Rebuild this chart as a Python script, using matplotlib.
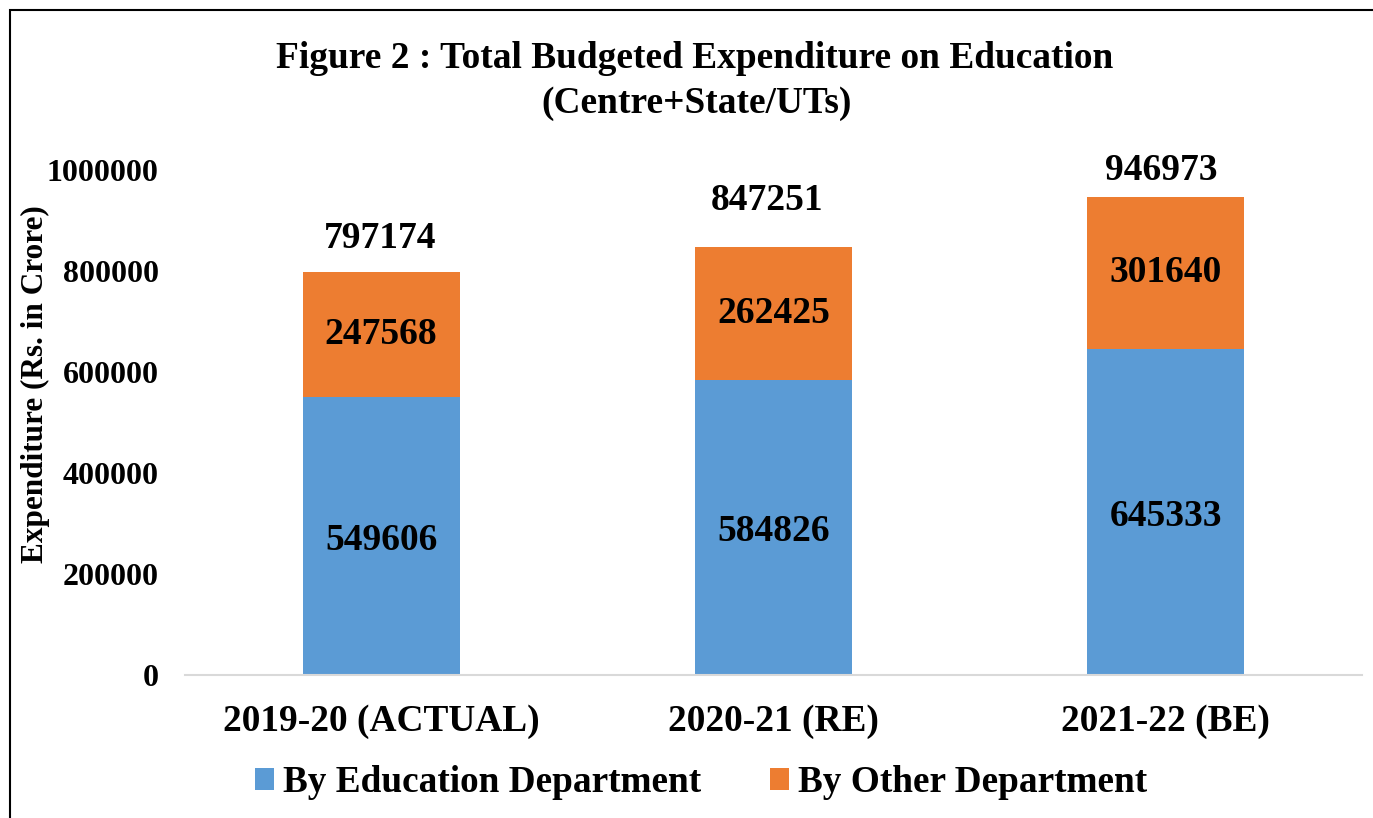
import matplotlib.pyplot as plt
from matplotlib.patches import Rectangle
import numpy as np

plt.rcParams['font.family'] = ['Liberation Serif', 'DejaVu Serif']
plt.rcParams['font.weight'] = 'bold'

categories = ["2019-20 (ACTUAL)", "2020-21 (RE)", "2021-22 (BE)"]
education_dept = [549606, 584826, 645333]
other_dept = [247568, 262425, 301640]
totals = [797174, 847251, 946973]
yticks = [0, 200000, 400000, 600000, 800000, 1000000]

# total labels were nudged by hand in the original, offsets in points
total_label_offsets = [(-0.7, 11.5), (-4.3, 21), (-3.6, 6.5)]

blue = "#5B9BD5"
orange = "#ED7D31"

fig = plt.figure(figsize=(13.73, 8.18), dpi=100)
ax = fig.add_axes([0.1347, 0.1748, 0.8573, 0.6174])

x = np.arange(len(categories))
ax.bar(x, education_dept, width=0.4, color=blue, label="By Education Department")
ax.bar(x, other_dept, width=0.4, bottom=education_dept, color=orange, label="By Other Department")

for i in range(len(categories)):
    ax.text(x[i], education_dept[i] / 2 - 8000, str(education_dept[i]), ha="center", va="center",
            fontsize=27, fontweight="bold")
    ax.text(x[i], education_dept[i] + other_dept[i] / 2, str(other_dept[i]), ha="center",
            va="center", fontsize=27, fontweight="bold")
    ax.annotate(str(totals[i]), (x[i], totals[i]), xytext=total_label_offsets[i],
                textcoords="offset points", ha="center", va="bottom",
                fontsize=27, fontweight="bold")

ax.set_xlim(-0.5, 2.5)
ax.set_ylim(0, 1000000)
ax.set_yticks(yticks)
ax.set_yticklabels([str(v) for v in yticks], fontsize=23, fontweight="bold")
ax.set_xticks(x)
ax.set_xticklabels(categories, fontsize=26.9, fontweight="bold")
ax.tick_params(axis="both", length=0)
ax.tick_params(axis="y", pad=19)
ax.tick_params(axis="x", pad=21)
for s in ["top", "right", "left"]:
    ax.spines[s].set_visible(False)
ax.spines["bottom"].set_color("#D9D9D9")
ax.spines["bottom"].set_linewidth(1.5)

fig.text(0.026, 0.531, "Expenditure (Rs. in Crore)", rotation=90, ha="center", va="center",
         fontsize=22.5, fontweight="bold")

fig.text(0.506, 0.929, "Figure 2 : Total Budgeted Expenditure on Education", ha="center",
         va="center", fontsize=26.9, fontweight="bold")
fig.text(0.507, 0.874, "(Centre+State/UTs)", ha="center", va="center", fontsize=26.9,
         fontweight="bold")

leg = fig.legend(loc="center", bbox_to_anchor=(0.5106, 0.043), ncol=2, frameon=False,
                 fontsize=26.8, handlelength=0.51, handleheight=0.51, handletextpad=0.24,
                 columnspacing=1.85)

# outer frame (top and left edges visible)
fig.patches.append(Rectangle((10 / 1373, -0.1), 1.2, 1 - 10 / 818 + 0.1, transform=fig.transFigure,
                             fill=False, edgecolor="black", linewidth=1.5))

fig.savefig("out.png", dpi=100)
